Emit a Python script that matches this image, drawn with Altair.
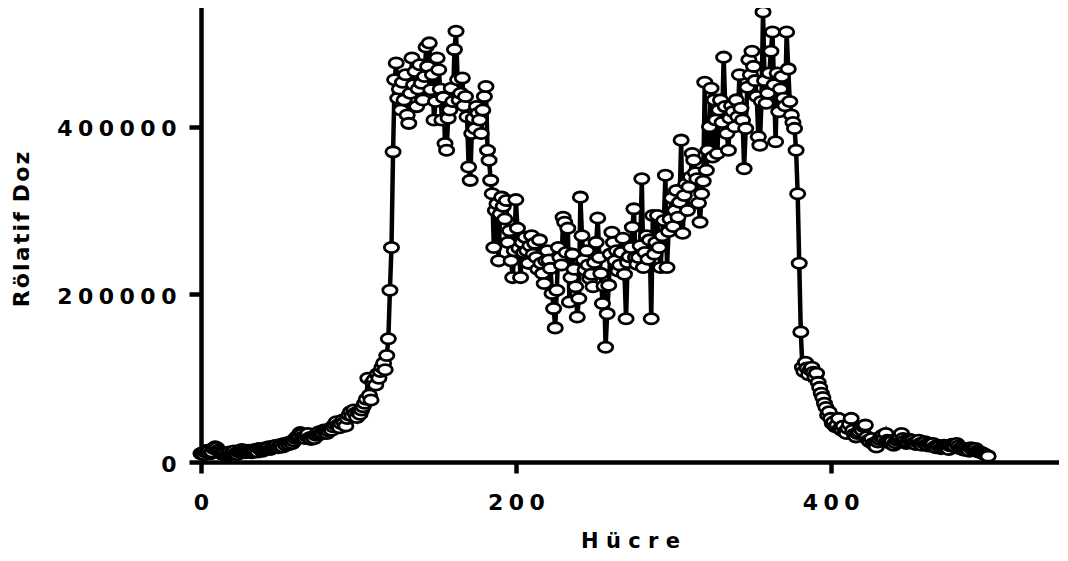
import altair as alt
import pandas as pd

# Relative dose (in thousands) per cell
tail_left = [
    10, 11, 9, 12, 14, 13, 10, 12, 16, 18,
    17, 14, 12, 10, 9, 11, 8, 10, 12, 9,
    11, 13, 10, 9, 12, 14, 15, 13, 11, 12,
    14, 12, 11, 13, 15, 14, 12, 16, 15, 13,
    15, 17, 16, 18, 15, 17, 19, 18, 20, 17,
    19, 21, 18, 22, 20, 23, 21, 24, 22, 25,
    28, 30, 32, 35, 33, 30, 28, 31, 34, 29,
    27, 30, 28, 32, 34, 36, 33, 35, 38, 36,
    34, 37, 40, 38, 42, 45, 48, 44, 41, 46,
    50, 47, 43, 52, 56, 60, 55, 62, 58, 53,
    60, 57, 62, 66, 70, 75, 100, 80, 74, 95,
    98, 92, 105, 100, 108, 113, 118, 110, 127, 147,
]
peak_left = [
    205, 256, 370,
    456, 476, 434, 445, 420, 453, 432,
    462, 414, 404, 440, 482, 450, 466, 424, 445, 474,
    452, 432, 460, 495, 472, 500, 444, 462, 408, 430,
    482, 468, 445, 408, 435, 380, 372, 410, 420, 446,
    430, 492, 514, 456, 432, 440, 458, 425, 436, 412,
    352, 336, 392, 410, 398, 424, 416, 408, 392, 420,
    436, 448, 372, 360, 336, 320, 256, 300, 308, 240,
    296, 316, 305, 290, 312, 262, 276, 240, 220, 252,
]
valley = [
    313, 279, 255, 220, 262, 250, 268, 252, 237, 258,
    270, 248, 261, 244, 230, 265, 237, 225, 213, 240,
    252, 241, 231, 201, 183, 160, 205, 256, 244, 235,
    292, 286, 250, 279, 191, 220, 248, 230, 209, 173,
    195, 316, 270, 241, 229, 252, 235, 219, 224, 209,
    238, 262, 291, 244, 225, 189, 210, 137, 177, 211,
    248, 274, 262, 240, 252, 228, 235, 250, 267, 224,
    171, 238, 245, 256, 280, 302, 244, 236, 244, 258,
    338, 232, 250, 270, 242, 265, 171, 294, 248, 262,
    294, 256, 232, 270, 288, 342, 232, 275, 290, 315,
]
peak_right = [
    281, 300, 324, 292, 310, 384, 273, 318, 332, 300,
    328, 340, 368, 360, 345, 338, 309, 286, 320, 335,
    453, 348, 372, 400, 446, 364, 432, 408, 368, 420,
    432, 405, 483, 424, 392, 372, 410, 425, 418, 400,
    432, 412, 462, 422, 408, 350, 398, 447, 480, 462,
    490, 472, 455, 436, 388, 378, 430, 537, 455, 428,
    440, 464, 490, 513, 450, 382, 464, 418, 445, 460,
    434, 425, 513, 469, 430, 414, 405, 398, 372, 320,
    237, 155,
]
tail_right = [
    113, 108, 119, 112, 104, 110, 113, 107,
    101, 106, 95, 89, 82, 77, 70, 65, 56, 60,
    52, 46, 48, 42, 44, 52, 40, 38, 43, 36,
    34, 40, 45, 52, 38, 33, 30, 34, 36, 40,
    38, 42, 44, 30, 26, 24, 28, 22, 20, 18,
    24, 27, 30, 32, 28, 34, 26, 24, 22, 25,
    20, 23, 26, 28, 30, 34, 28, 25, 22, 24,
    27, 25, 26, 23, 21, 24, 26, 22, 20, 23,
    24, 21, 19, 22, 20, 22, 18, 17, 20, 19,
    16, 18, 20, 18, 17, 15, 19, 21, 20, 18,
    22, 19, 16, 17, 15, 14, 16, 15, 13, 17,
    15, 14, 16, 13, 12, 12, 11, 10, 9, 8, 7,
]
x_ticks = [0, 200, 400]
y_ticks = [0, 200000, 400000]

values_k = tail_left + peak_left + valley + peak_right + tail_right
df = pd.DataFrame({
    "cell": list(range(len(values_k))),
    "dose": [v * 1000 for v in values_k],
})

FONT = "DejaVu Sans"
spaced = "join(split(toString(datum.value), ''), '\u2005')"

x_axis = alt.Axis(
    values=x_ticks, title="H ü c r e", grid=False,
    domainWidth=4.5, domainColor="black", tickWidth=4.5, tickColor="black", tickSize=11,
    labelFont=FONT, labelFontSize=22, labelFontWeight="bold", labelColor="black",
    labelPadding=36, labelBaseline="alphabetic", labelExpr=spaced,
    labelFlush=False, labelOverlap=False,
    titleFont=FONT, titleFontSize=21, titleFontWeight="bold", titleColor="black",
    titleBaseline="alphabetic", titleY=85, titleAlign="center",
)
y_axis = alt.Axis(
    values=y_ticks, title="R\u200aö\u200al\u200aa\u200at\u200ai\u200af \u200aD\u200ao\u200az", grid=False,
    domainWidth=4.5, domainColor="black", tickWidth=4.5, tickColor="black", tickSize=12,
    labelFont=FONT, labelFontSize=22, labelFontWeight="bold", labelColor="black",
    labelPadding=13, labelExpr=spaced, labelOffset=2, labelOverlap=False,
    titleFont=FONT, titleFontSize=22, titleFontWeight="bold", titleColor="black",
    titleAngle=270, titleBaseline="alphabetic", titleAlign="center",
    titleX=-173, titleY=228,
)

x = alt.X("cell:Q", scale=alt.Scale(domain=[0, 545], nice=False, zero=False), axis=x_axis)
y = alt.Y("dose:Q", scale=alt.Scale(domain=[0, 550000], nice=False), axis=y_axis)

line = alt.Chart(df).mark_line(color="black", strokeWidth=4.5).encode(x=x, y=y, order="cell:Q")
ellipse = "M -1 0 A 1 0.72 0 1 0 1 0 A 1 0.72 0 1 0 -1 0 Z"
points = alt.Chart(df).mark_point(
    shape=ellipse, size=204, filled=True, fill="white", stroke="black",
    strokeWidth=2.8, opacity=1, fillOpacity=1,
).encode(x=x, y=y)

chart = (
    alt.layer(line, points)
    .properties(
        width=858, height=461,
        autosize=alt.AutoSizeParams(type="none"),
        padding={"left": 193, "top": -7, "right": 0, "bottom": 91},
        background="white",
    )
    .configure_view(stroke=None)
)

chart.save("out.html", embed_options={"renderer": "svg", "actions": False})
